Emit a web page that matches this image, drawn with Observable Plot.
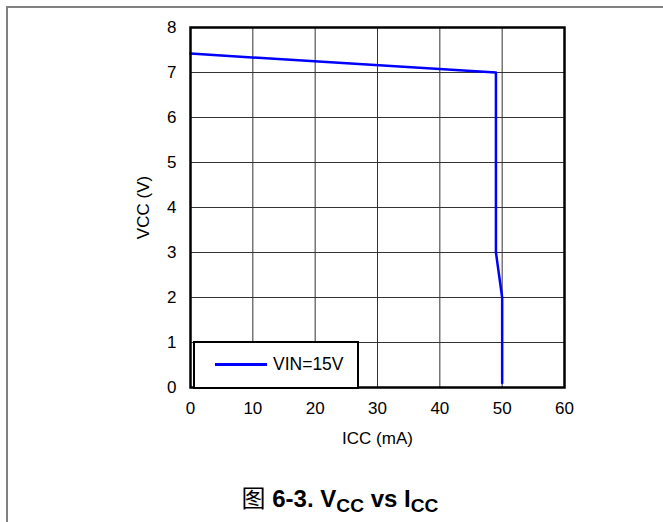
<!DOCTYPE html>
<html><head><meta charset="utf-8">
<script src="https://cdn.jsdelivr.net/npm/d3@7"></script>
<script src="https://cdn.jsdelivr.net/npm/@observablehq/plot@0.6"></script>
<style>
body{margin:0;background:#fff;}
#wrap{position:relative;width:663px;height:522px;overflow:hidden;font-family:"Liberation Sans",Arial,sans-serif;background:#fff;}
#bl{position:absolute;left:6px;top:6px;width:2px;bottom:0;background:#808080}
#bt{position:absolute;left:6px;top:6px;height:2px;right:0;background:#808080}
#chart{position:absolute;left:0;top:0;}
#chart svg text{font-size:17px}
#legend{position:absolute;left:193px;top:341px;width:162px;height:44px;border:2px solid #000;background:#fff;}
#legend .ln{position:absolute;left:20px;top:20px;width:52px;height:2.5px;background:#0000ff}
#legend .tx{position:absolute;left:78px;top:11px;font-size:17.5px;line-height:20px;color:#000}
#title{position:absolute;left:0;width:680px;top:479px;text-align:center;font-weight:bold;font-size:24px;color:#000;white-space:nowrap}
#title .cjk{font-family:"Noto Sans CJK SC",sans-serif;font-weight:normal}
#title sub{font-size:0.8em;vertical-align:-0.25em;line-height:0}
</style></head>
<body><div id="wrap"><div id="bl"></div><div id="bt"></div><div id="chart"></div>
<div id="legend"><div class="ln"></div><div class="tx">VIN=15V</div></div>
<div id="title"><span class="cjk">图</span> 6-3. V<sub>CC</sub> vs I<sub>CC</sub></div>
</div>
<script>
const icc = [0, 49, 49, 50, 50];
const vcc = [7.42, 7.0, 3.0, 2.0, 0.1];
const xTicks = [0, 10, 20, 30, 40, 50, 60];
const yTicks = [0, 1, 2, 3, 4, 5, 6, 7, 8];
const seriesName = "VIN=15V";
const xLabel = "ICC (mA)";
const yLabel = "VCC (V)";

const data = icc.map((x, i) => ({x, y: vcc[i]}));

const plot = Plot.plot({
  width: 663,
  height: 460,
  marginLeft: 190,
  marginRight: 99,
  marginTop: 27,
  marginBottom: 73,
  style: {fontFamily: "Liberation Sans, Arial, sans-serif", fontSize: "17px", color: "#000", background: "transparent"},
  x: {domain: [0, 60]},
  y: {domain: [0, 8]},
  marks: [
    Plot.gridX(xTicks.slice(1, -1), {stroke: "#333", strokeOpacity: 1, strokeWidth: 1}),
    Plot.gridY(yTicks.slice(1, -1), {stroke: "#333", strokeOpacity: 1, strokeWidth: 1}),
    Plot.line(data, {x: "x", y: "y", stroke: "#0000ff", strokeWidth: 2.5}),
    Plot.frame({stroke: "#000", strokeWidth: 2.5}),
    Plot.axisX({ticks: xTicks, tickSize: 0, tickPadding: 14, label: xLabel, labelAnchor: "center", labelArrow: "none", labelOffset: 56}),
    Plot.axisY({ticks: yTicks, tickSize: 0, tickPadding: 14, label: yLabel, labelAnchor: "center", labelArrow: "none", labelOffset: 54})
  ]
});
document.getElementById("chart").appendChild(plot);
document.querySelector("#legend .tx").textContent = seriesName;
</script>
</body></html>
